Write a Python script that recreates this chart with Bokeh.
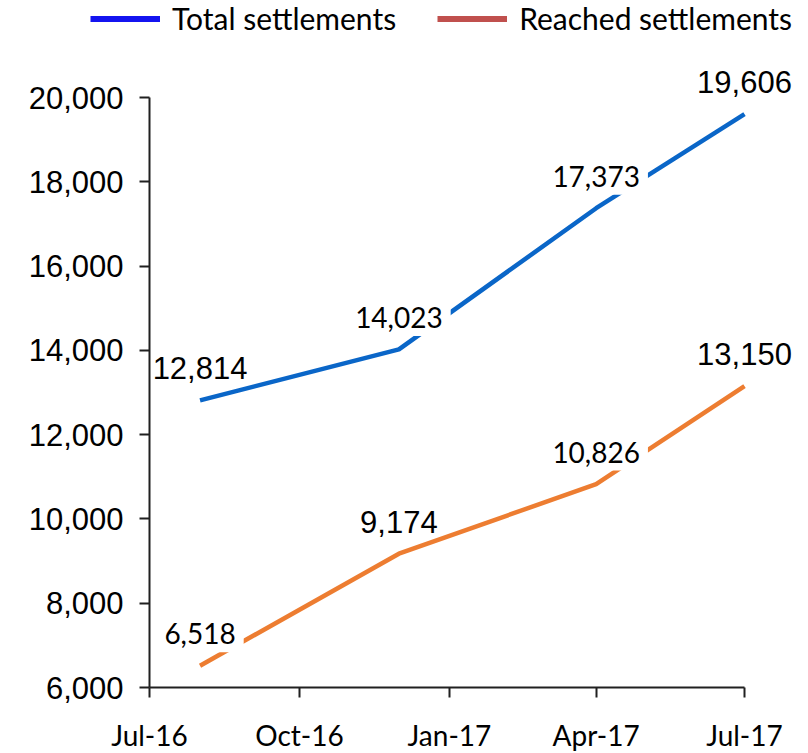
import pandas as pd
from bokeh.plotting import figure
from bokeh.models import (ColumnDataSource, Legend, LegendItem,
                          FixedTicker, Range1d)
from bokeh.core.properties import value
from bokeh.embed import file_html
from bokeh.resources import INLINE

# ---- data ----
dates = ["2016-08-01", "2016-12-01", "2017-04-01", "2017-07-01"]
total = [12814, 14023, 17373, 19606]
reached = [6518, 9174, 10826, 13150]
total_labels = ["12,814", "14,023", "17,373", "19,606"]
reached_labels = ["6,518", "9,174", "10,826", "13,150"]
total_boxed = [False, True, True, False]
reached_boxed = [True, False, True, False]

x_tick_dates = ["2016-07-01", "2016-10-01", "2017-01-01", "2017-04-01", "2017-07-01"]
x_tick_labels = ["Jul-16", "Oct-16", "Jan-17", "Apr-17", "Jul-17"]
y_ticks = [6000, 8000, 10000, 12000, 14000, 16000, 18000, 20000]
y_tick_labels = ["6,000", "8,000", "10,000", "12,000", "14,000", "16,000", "18,000", "20,000"]


def ms(d):
    return int(pd.Timestamp(d).value // 10**6)


x = [ms(d) for d in dates]
xt = [ms(d) for d in x_tick_dates]

BLUE = "#0A66C8"
ORANGE = "#ED7D31"
AXIS = "#202020"

# ---- layout (pixels); the frame fills the whole canvas ----
W, H = 808, 753
AX_LEFT, AX_RIGHT, AX_TOP, AX_BOTTOM = 149, 744, 97, 687   # axis extents

x0, x1 = xt[0], xt[-1]
x_per_px = (x1 - x0) / (AX_RIGHT - AX_LEFT)
y0, y1 = y_ticks[0], y_ticks[-1]
y_per_px = (y1 - y0) / (AX_BOTTOM - AX_TOP)

p = figure(width=W, height=H, output_backend="svg", toolbar_location=None,
           x_range=Range1d(x0 - AX_LEFT * x_per_px, x1 + (W - AX_RIGHT) * x_per_px),
           y_range=Range1d(y0 - (H - AX_BOTTOM) * y_per_px, y1 + AX_TOP * y_per_px),
           min_border=0)
p.background_fill_color = "white"
p.border_fill_color = "white"
p.outline_line_color = None
p.xgrid.visible = False
p.ygrid.visible = False

src_total = ColumnDataSource(dict(x=x, y=total))
src_reached = ColumnDataSource(dict(x=x, y=reached))
p.line("x", "y", source=src_total, line_color=BLUE, line_width=4.5)
p.line("x", "y", source=src_reached, line_color=ORANGE, line_width=4.5)

# data labels
bx, by, bt, px_, py, pt = [], [], [], [], [], []
for ys, ls, bs in ((total, total_labels, total_boxed),
                   (reached, reached_labels, reached_boxed)):
    for xi, yi, li, bi in zip(x, ys, ls, bs):
        if bi:
            bx.append(xi); by.append(yi); bt.append(li)
        else:
            px_.append(xi); py.append(yi); pt.append(li)

p.text(x="x", y="y", text="text",
       source=ColumnDataSource(dict(x=bx, y=by, text=bt)),
       text_align="center", text_baseline="middle", y_offset=-32,
       text_font=value("Lato"), text_font_size=value("28px"),
       text_color="black", background_fill_color="white", padding=8)
p.text(x="x", y="y", text="text",
       source=ColumnDataSource(dict(x=px_, y=py, text=pt)),
       text_align="center", text_baseline="middle", y_offset=-32,
       text_font=value("Liberation Sans"), text_font_size=value("31px"),
       text_color="black")

# axes, pinned to the data origin
p.xaxis.ticker = FixedTicker(ticks=xt)
p.xaxis.major_label_overrides = {t: l for t, l in zip(xt, x_tick_labels)}
p.xaxis.bounds = (x0, x1)
p.xaxis.fixed_location = y0
p.yaxis.ticker = FixedTicker(ticks=y_ticks)
p.yaxis.major_label_overrides = {t: l for t, l in zip(y_ticks, y_tick_labels)}
p.yaxis.bounds = (y0, y1)
p.yaxis.fixed_location = x0
for ax in (p.xaxis, p.yaxis):
    ax.axis_line_color = AXIS
    ax.axis_line_width = 2
    ax.major_tick_line_color = AXIS
    ax.major_tick_line_width = 2
    ax.major_tick_in = 0
    ax.major_tick_out = 10
    ax.minor_tick_line_color = None
    ax.major_label_text_color = "black"
p.xaxis.major_label_text_font = "Lato"
p.xaxis.major_label_text_font_size = "28px"
p.xaxis.major_label_standoff = 20
p.yaxis.major_label_text_font = "Liberation Sans"
p.yaxis.major_label_text_font_size = "31px"
p.yaxis.major_label_standoff = 16

# legend at the top (single-point renderers: they draw nothing in the plot)
r_leg_total = p.line(x=x[:1], y=total[:1], line_color="#1414F0", line_width=6)
r_leg_reached = p.line(x=x[:1], y=reached[:1], line_color="#C0504D", line_width=6)
legend = Legend(items=[LegendItem(label="Total settlements", renderers=[r_leg_total]),
                       LegendItem(label="Reached settlements", renderers=[r_leg_reached])],
                location=(90, H - 36), orientation="horizontal",
                glyph_width=70, glyph_height=35, label_standoff=12, spacing=41,
                padding=0, margin=0, border_line_color=None,
                background_fill_alpha=0, label_text_font="Lato",
                label_text_font_size="30px", label_text_color="black")
p.add_layout(legend)

open("out.html", "w").write(file_html(p, INLINE))
